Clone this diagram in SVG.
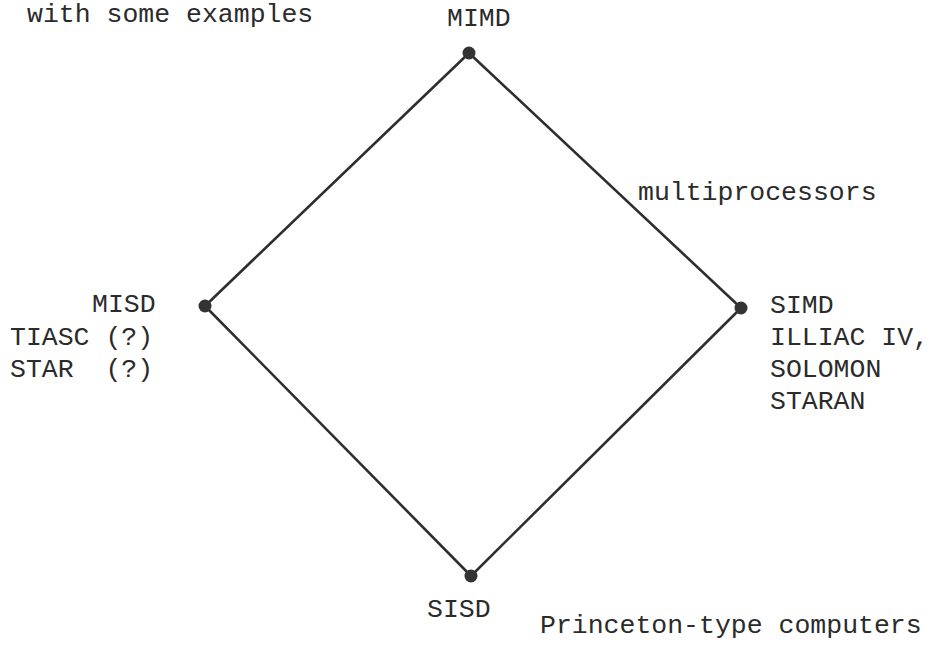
<svg xmlns="http://www.w3.org/2000/svg" width="932" height="653" viewBox="0 0 932 653">
<style>
text{font-family:"Liberation Mono","Courier New",monospace;font-size:26.5px;fill:#2b2b2b;white-space:pre}
.e{stroke:#2e2e2e;stroke-width:2.6;fill:none;stroke-linecap:round}
.d{fill:#333}
</style>
<rect width="932" height="653" fill="#fff"/>
<text x="27" y="22">with some examples</text>
<g id="connectors">
<line class="e" x1="469" y1="53" x2="205" y2="306"/>
<line class="e" x1="469" y1="53" x2="741" y2="308"/>
<line class="e" x1="205" y1="306" x2="471" y2="576"/>
<line class="e" x1="741" y1="308" x2="471" y2="576"/>
</g>
<g id="mimd">
<circle class="d" cx="469" cy="53" r="6.5"/>
<text x="447" y="26">MIMD</text>
<text x="638" y="200">multiprocessors</text>
</g>
<g id="misd">
<circle class="d" cx="205" cy="306" r="6.5"/>
<text x="92" y="312">MISD</text>
<text x="10" y="345">TIASC (?)</text>
<text x="10" y="377" xml:space="preserve">STAR  (?)</text>
</g>
<g id="simd">
<circle class="d" cx="741" cy="308" r="6.5"/>
<text x="770" y="313">SIMD</text>
<text x="770" y="345">ILLIAC IV,</text>
<text x="770" y="377">SOLOMON</text>
<text x="770" y="409">STARAN</text>
</g>
<g id="sisd">
<circle class="d" cx="471" cy="576" r="6.5"/>
<text x="427" y="617">SISD</text>
<text x="540" y="633">Princeton-type computers</text>
</g>
</svg>
